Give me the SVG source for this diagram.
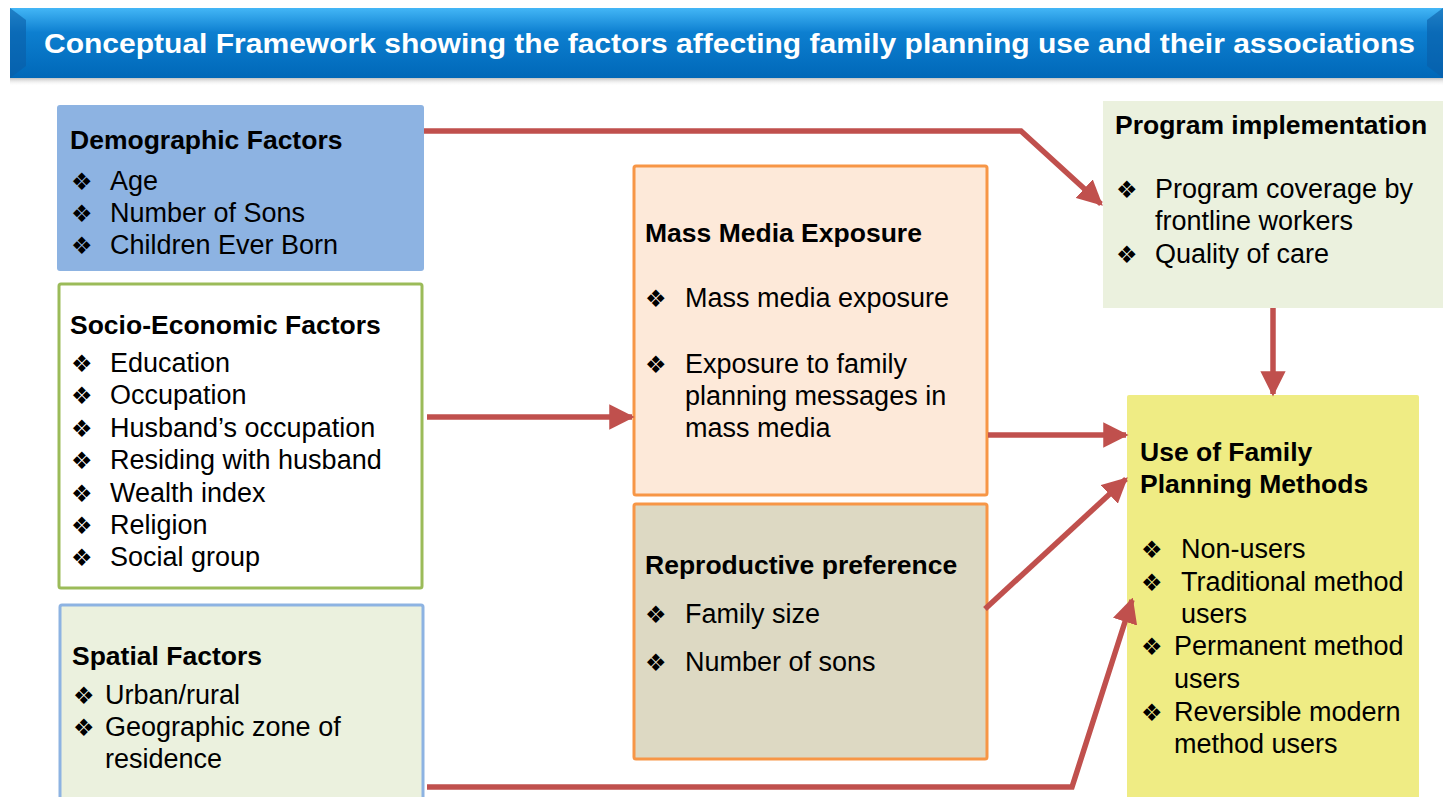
<svg xmlns="http://www.w3.org/2000/svg" width="1451" height="797" viewBox="0 0 1451 797">
<defs>
<linearGradient id="bar" x1="0" y1="0" x2="0" y2="1">
<stop offset="0" stop-color="#43b6f6"/>
<stop offset="0.35" stop-color="#0d7fd0"/>
<stop offset="1" stop-color="#0068b8"/>
</linearGradient>
<linearGradient id="shadow" x1="0" y1="0" x2="0" y2="1">
<stop offset="0" stop-color="#9a9a9a" stop-opacity="0.6"/>
<stop offset="1" stop-color="#ffffff" stop-opacity="0"/>
</linearGradient>
<marker id="ah" viewBox="0 0 10 10" refX="9" refY="5" markerWidth="4.6" markerHeight="4.6" markerUnits="strokeWidth" orient="auto">
<path d="M0,0 L10,5 L0,10 z" fill="#c0504d"/>
</marker>
</defs>
<style>
text{font-family:"Liberation Sans",Arial,sans-serif;fill:#000}
.t{font-weight:bold;font-size:26.5px}
.i{font-size:27px}
.b{font-family:"DejaVu Sans",sans-serif;font-size:24px}
.ttl{font-weight:bold;font-size:28px;fill:#fff}
.c{fill:none;stroke:#c0504d;stroke-width:5.5;stroke-linejoin:miter}
</style>
<rect width="1451" height="797" fill="#fff"/>
<g id="title">
<rect x="10" y="78" width="1433" height="8" fill="url(#shadow)"/>
<rect x="10" y="8" width="1433" height="70" fill="url(#bar)"/>
<polygon points="10,8 26,20 26,66 10,78" fill="#0a5ea6" opacity="0.6"/>
<polygon points="1443,8 1427,20 1427,66 1443,78" fill="#0a5ea6" opacity="0.6"/>
<text class="ttl" x="44" y="53" textLength="1371" lengthAdjust="spacingAndGlyphs">Conceptual Framework showing the factors affecting family planning use and their associations</text>
</g>
<g id="demographic">
<rect x="57" y="105" width="367" height="166" rx="3" fill="#8db3e2"/>
<text class="t" x="70" y="149">Demographic Factors</text>
<text class="b" x="71" y="190">❖</text><text class="i" x="110" y="190">Age</text>
<text class="b" x="71" y="222">❖</text><text class="i" x="110" y="222">Number of Sons</text>
<text class="b" x="71" y="254">❖</text><text class="i" x="110" y="254">Children Ever Born</text>
</g>
<g id="socioeconomic">
<rect x="59" y="284" width="363" height="304" rx="2" fill="#fff" stroke="#9bbb59" stroke-width="3"/>
<text class="t" x="70" y="334">Socio-Economic Factors</text>
<text class="b" x="71" y="372">❖</text><text class="i" x="110" y="372">Education</text>
<text class="b" x="71" y="404">❖</text><text class="i" x="110" y="404">Occupation</text>
<text class="b" x="71" y="437">❖</text><text class="i" x="110" y="437">Husband’s occupation</text>
<text class="b" x="71" y="469">❖</text><text class="i" x="110" y="469">Residing with husband</text>
<text class="b" x="71" y="502">❖</text><text class="i" x="110" y="502">Wealth index</text>
<text class="b" x="71" y="534">❖</text><text class="i" x="110" y="534">Religion</text>
<text class="b" x="71" y="566">❖</text><text class="i" x="110" y="566">Social group</text>
</g>
<g id="spatial">
<rect x="60" y="605" width="363" height="200" rx="2" fill="#ebf1de" stroke="#8db3e2" stroke-width="3"/>
<text class="t" x="72" y="665">Spatial Factors</text>
<text class="b" x="73" y="704">❖</text><text class="i" x="105" y="704">Urban/rural</text>
<text class="b" x="73" y="736">❖</text><text class="i" x="105" y="736">Geographic zone of</text>
<text class="i" x="105" y="768">residence</text>
</g>
<g id="massmedia">
<rect x="634" y="166" width="353" height="329" rx="2" fill="#fde9d9" stroke="#f79646" stroke-width="3"/>
<text class="t" x="645" y="242">Mass Media Exposure</text>
<text class="b" x="645" y="307">❖</text><text class="i" x="685" y="307">Mass media exposure</text>
<text class="b" x="645" y="373">❖</text><text class="i" x="685" y="373">Exposure to family</text>
<text class="i" x="685" y="405">planning messages in</text>
<text class="i" x="685" y="437">mass media</text>
</g>
<g id="reproductive">
<rect x="634" y="504" width="353" height="255" rx="2" fill="#ddd9c3" stroke="#f79646" stroke-width="3"/>
<text class="t" x="645" y="574">Reproductive preference</text>
<text class="b" x="645" y="623">❖</text><text class="i" x="685" y="623">Family size</text>
<text class="b" x="645" y="671">❖</text><text class="i" x="685" y="671">Number of sons</text>
</g>
<g id="program">
<rect x="1103" y="101" width="340" height="207" fill="#ebf1de"/>
<text class="t" x="1115" y="134">Program implementation</text>
<text class="b" x="1116" y="198">❖</text><text class="i" x="1155" y="198">Program coverage by</text>
<text class="i" x="1155" y="230">frontline workers</text>
<text class="b" x="1116" y="263">❖</text><text class="i" x="1155" y="263">Quality of care</text>
</g>
<g id="usefp">
<rect x="1127" y="395" width="292" height="410" rx="2" fill="#efec84"/>
<text class="t" x="1140" y="461">Use of Family</text>
<text class="t" x="1140" y="493">Planning Methods</text>
<text class="b" x="1141" y="558">❖</text><text class="i" x="1181" y="558">Non-users</text>
<text class="b" x="1141" y="591">❖</text><text class="i" x="1181" y="591">Traditional method</text>
<text class="i" x="1181" y="623">users</text>
<text class="b" x="1141" y="655">❖</text><text class="i" x="1174" y="655">Permanent method</text>
<text class="i" x="1174" y="688">users</text>
<text class="b" x="1141" y="721">❖</text><text class="i" x="1174" y="721">Reversible modern</text>
<text class="i" x="1174" y="753">method users</text>
</g>
<g id="connectors">
<path class="c" d="M424,131 H1021 L1101,204" marker-end="url(#ah)"/>
<path class="c" d="M427,417 H632" marker-end="url(#ah)"/>
<path class="c" d="M988,435 H1126" marker-end="url(#ah)"/>
<path class="c" d="M985,609 L1126,479" marker-end="url(#ah)"/>
<path class="c" d="M427,787 H1072 L1132,600" marker-end="url(#ah)"/>
<path class="c" d="M1273,308 V394" marker-end="url(#ah)"/>
</g>
</svg>
